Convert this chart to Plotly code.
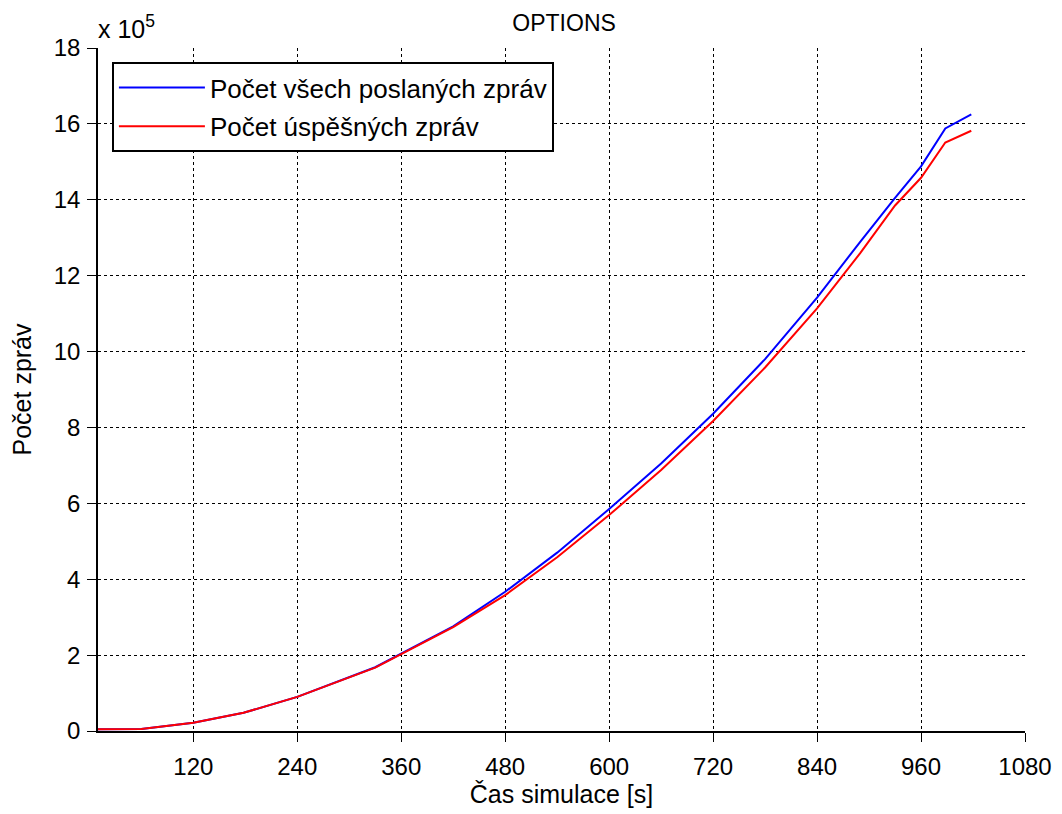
import plotly.graph_objects as go

time_s = [10, 60, 120, 178, 240, 330, 420, 480, 540, 600, 660, 720, 780, 840, 890, 930, 960, 988, 1018]
sent_e5 = [0.045, 0.05, 0.22, 0.48, 0.90, 1.68, 2.76, 3.67, 4.70, 5.85, 7.05, 8.36, 9.80, 11.42, 12.90, 14.05, 14.88, 15.88, 16.25]
ok_e5 = [0.045, 0.05, 0.22, 0.48, 0.90, 1.67, 2.74, 3.58, 4.58, 5.69, 6.88, 8.17, 9.58, 11.14, 12.60, 13.85, 14.58, 15.51, 15.82]

x_ticks = [120, 240, 360, 480, 600, 720, 840, 960, 1080]
y_ticks = [0, 2, 4, 6, 8, 10, 12, 14, 16, 18]

series_names = ["Počet všech poslaných zpráv", "Počet úspěšných zpráv"]
FONT = "Arial, Liberation Sans, sans-serif"

fig = go.Figure()
fig.add_trace(go.Scatter(x=time_s, y=sent_e5, mode="lines", name=series_names[0],
                         legendgroup="a", line=dict(color="rgb(0,0,255)", width=2)))
fig.add_trace(go.Scatter(x=time_s, y=ok_e5, mode="lines", name=series_names[1],
                         legendgroup="b", line=dict(color="rgb(255,0,0)", width=2)))

axis_common = dict(
    showline=True, linecolor="black", linewidth=1.5,
    ticks="outside", ticklen=9, tickwidth=1.2, tickcolor="black",
    showgrid=True, gridcolor="black", gridwidth=1, griddash="dot",
    zeroline=False, automargin=False,
    tickfont=dict(family=FONT, size=24, color="black"),
)

fig.update_xaxes(range=[10, 1080], tickvals=x_ticks, ticklabelstandoff=4,
                 title=dict(text="Čas simulace [s]", font=dict(family=FONT, size=25, color="black"), standoff=4),
                 **axis_common)
fig.update_yaxes(range=[0, 18], tickvals=y_ticks, ticklabelstandoff=2,
                 title=dict(text="Počet zpráv", font=dict(family=FONT, size=25, color="black"), standoff=16),
                 **axis_common)

fig.add_annotation(text="x 10<sup>5</sup>", xref="paper", yref="paper", x=0, y=1,
                   xanchor="left", yanchor="bottom", yshift=3, xshift=-2, showarrow=False,
                   font=dict(family=FONT, size=25, color="black"))

fig.update_layout(
    width=1054, height=806,
    margin=dict(l=90, r=37, t=40, b=83),
    paper_bgcolor="white", plot_bgcolor="white",
    title=dict(text="OPTIONS", x=0.5276, xanchor="center", y=0.982, yanchor="middle",
               font=dict(family=FONT, size=23, color="black")),
    showlegend=True,
    legend=dict(x=0.015, y=0.9795, xanchor="left", yanchor="top",
                bgcolor="white", bordercolor="black", borderwidth=2,
                font=dict(family=FONT, size=26, color="black"),
                traceorder="grouped", tracegroupgap=2, itemwidth=86),
)

fig.write_html("out.html")
